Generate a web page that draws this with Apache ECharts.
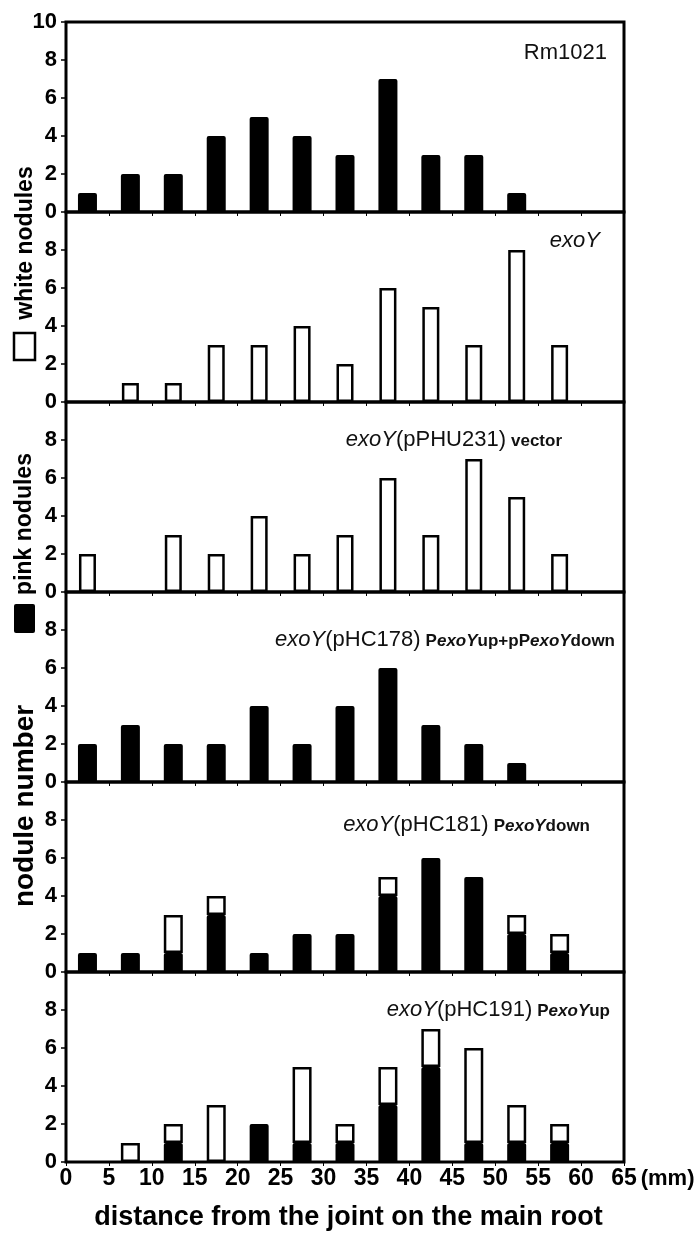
<!DOCTYPE html>
<html>
<head>
<meta charset="utf-8">
<script src="https://cdn.jsdelivr.net/npm/echarts@6/dist/echarts.min.js"></script>
<style>
  html, body { margin: 0; padding: 0; background: #fff; }
  #main { width: 697px; height: 1233px; }
</style>
</head>
<body>
<div id="main"></div>
<script>
// 5 mm bins along the root (the last one, 60-65, is empty everywhere)
var bins = ['0-5', '5-10', '10-15', '15-20', '20-25', '25-30', '30-35',
            '35-40', '40-45', '45-50', '50-55', '55-60', '60-65'];

// nodule counts per bin, pink = black bars, white = open bars
var rm1021Pink   = [1, 2, 2, 4, 5, 4, 3, 7, 3, 3, 1, 0, 0];
var exoYWhite    = [0, 1, 1, 3, 3, 4, 2, 6, 5, 3, 8, 3, 0];
var pPHU231White = [2, 0, 3, 2, 4, 2, 3, 6, 3, 7, 5, 2, 0];
var pHC178Pink   = [2, 3, 2, 2, 4, 2, 4, 6, 3, 2, 1, 0, 0];
var pHC181Pink   = [1, 1, 1, 3, 1, 2, 2, 4, 6, 5, 2, 1, 0];
var pHC181White  = [0, 0, 2, 1, 0, 0, 0, 1, 0, 0, 1, 1, 0];
var pHC191Pink   = [0, 0, 1, 0, 2, 1, 1, 3, 5, 1, 1, 1, 0];
var pHC191White  = [0, 1, 1, 3, 0, 4, 1, 2, 2, 5, 2, 1, 0];

var yTicks = [0, 2, 4, 6, 8, 10];
var xTicks = [0, 5, 10, 15, 20, 25, 30, 35, 40, 45, 50, 55, 60, 65];

var panels = [
  { pink: rm1021Pink,  white: null,         label: '{n|Rm1021}' },
  { pink: null,        white: exoYWhite,    label: '{i|exoY}' },
  { pink: null,        white: pPHU231White, label: '{i|exoY}{n|(pPHU231)} {b|vector}' },
  { pink: pHC178Pink,  white: null,         label: '{i|exoY}{n|(pHC178)} {b|P}{bi|exoY}{b|up+pP}{bi|exoY}{b|down}' },
  { pink: pHC181Pink,  white: pHC181White,  label: '{i|exoY}{n|(pHC181)} {b|P}{bi|exoY}{b|down}' },
  { pink: pHC191Pink,  white: pHC191White,  label: '{i|exoY}{n|(pHC191)} {b|P}{bi|exoY}{b|up}' }
];
var labelPos = [
  { right: 90, top: 42 },
  { right: 97, top: 230 },
  { right: 135, top: 429 },
  { right: 82, top: 629 },
  { right: 107, top: 814 },
  { right: 87, top: 999 }
];

var FONT = '"Liberation Sans", Arial, sans-serif';
var plotTop = 22, panelH = 190, plotLeft = 66, plotRight = 73;

var grids = [], xAxes = [], yAxes = [], series = [], titles = [];
var rich = {
  n:  { fontFamily: FONT, fontSize: 22, fontWeight: 'normal', color: '#111', verticalAlign: 'bottom' },
  i:  { fontFamily: FONT, fontSize: 22, fontWeight: 'normal', fontStyle: 'italic', color: '#111', verticalAlign: 'bottom' },
  b:  { fontFamily: FONT, fontSize: 17, fontWeight: 'bold', color: '#111', verticalAlign: 'bottom', padding: [0, 0, 1, 0] },
  bi: { fontFamily: FONT, fontSize: 17, fontWeight: 'bold', fontStyle: 'italic', color: '#111', verticalAlign: 'bottom', padding: [0, 0, 1, 0] }
};

panels.forEach(function (p, k) {
  var last = k === panels.length - 1;
  grids.push({
    left: plotLeft, right: plotRight, top: plotTop + k * panelH, height: panelH,
    show: true, borderColor: '#000', borderWidth: 3, backgroundColor: 'transparent'
  });
  // category axis that places the bars in their bins
  xAxes.push({
    gridIndex: k, type: 'category', data: bins, boundaryGap: true, position: 'top',
    axisLine: { show: false }, axisTick: { show: false }, axisLabel: { show: false },
    splitLine: { show: false }
  });
  // mm scale with the ticks and labels
  xAxes.push({
    gridIndex: k, type: 'value', min: 0, max: 65, interval: 5, position: 'bottom',
    axisLine: { show: false },
    splitLine: { show: false },
    axisTick: { show: true, inside: false, length: 4, lineStyle: { color: '#000', width: 1 } },
    axisLabel: {
      show: last, margin: 5, color: '#000', fontFamily: FONT, fontWeight: 'bold', fontSize: 23,
      formatter: function (v) { return xTicks.indexOf(v) >= 0 ? String(v) : ''; }
    },
    name: last ? '(mm)' : '', nameLocation: 'end', nameGap: 11,
    nameTextStyle: { color: '#000', fontFamily: FONT, fontWeight: 'bold', fontSize: 22, verticalAlign: 'top', padding: [6, 0, 0, 0] }
  });
  yAxes.push({
    gridIndex: k, type: 'value', min: 0, max: 10, interval: 2,
    axisLine: { show: false },
    splitLine: { show: false },
    axisTick: { show: true, inside: false, length: 5, lineStyle: { color: '#000', width: 1.5 } },
    axisLabel: {
      margin: 9, color: '#000', fontFamily: FONT, fontWeight: 'bold', fontSize: 22,
      formatter: function (v) {
        if (yTicks.indexOf(v) < 0) return '';
        if (v === 10 && k !== 0) return '';
        return String(v);
      }
    }
  });
  if (p.pink) {
    series.push({
      type: 'bar', xAxisIndex: 2 * k, yAxisIndex: k, stack: 'panel' + k, barWidth: 19,
      itemStyle: { color: '#000', borderRadius: [2, 2, 0, 0] },
      data: p.pink
    });
  }
  if (p.white) {
    series.push({
      type: 'bar', xAxisIndex: 2 * k, yAxisIndex: k, stack: 'panel' + k, barWidth: 17,
      itemStyle: { color: '#fff', borderColor: '#000', borderWidth: 2.5 },
      data: p.white.map(function (v) { return v > 0 ? v : '-'; })
    });
  }
  titles.push({
    text: p.label, right: labelPos[k].right, top: labelPos[k].top, padding: 0,
    textStyle: { fontWeight: 'normal', rich: rich }
  });
});

var bottomTitle = {
  type: 'text', left: 'center', top: 1204,
  style: {
    text: 'distance from the joint on the main root',
    font: 'bold 27px ' + FONT, fill: '#000'
  }
};

// rotated y titles with key squares
var yTitleParts = [
  { type: 'text', x: 26, y: 243, rotation: Math.PI / 2,
    style: { text: 'white nodules', font: 'bold 23px ' + FONT, fill: '#000', align: 'center', verticalAlign: 'middle' } },
  { type: 'rect', shape: { x: 14, y: 333, width: 21, height: 27 },
    style: { fill: '#fff', stroke: '#000', lineWidth: 2.5 } },
  { type: 'text', x: 25, y: 524, rotation: Math.PI / 2,
    style: { text: 'pink nodules', font: 'bold 23px ' + FONT, fill: '#000', align: 'center', verticalAlign: 'middle' } },
  { type: 'rect', shape: { x: 14, y: 604, width: 21, height: 29, r: 2 },
    style: { fill: '#000' } },
  { type: 'text', x: 25, y: 806, rotation: Math.PI / 2,
    style: { text: 'nodule number', font: 'bold 28px ' + FONT, fill: '#000', align: 'center', verticalAlign: 'middle' } }
];

var chart = echarts.init(document.getElementById('main'), null, { renderer: 'canvas' });
chart.setOption({
  animation: false,
  backgroundColor: '#fff',
  title: titles,
  grid: grids,
  xAxis: xAxes,
  yAxis: yAxes,
  series: series,
  graphic: [bottomTitle].concat(yTitleParts)
});
</script>
</body>
</html>
